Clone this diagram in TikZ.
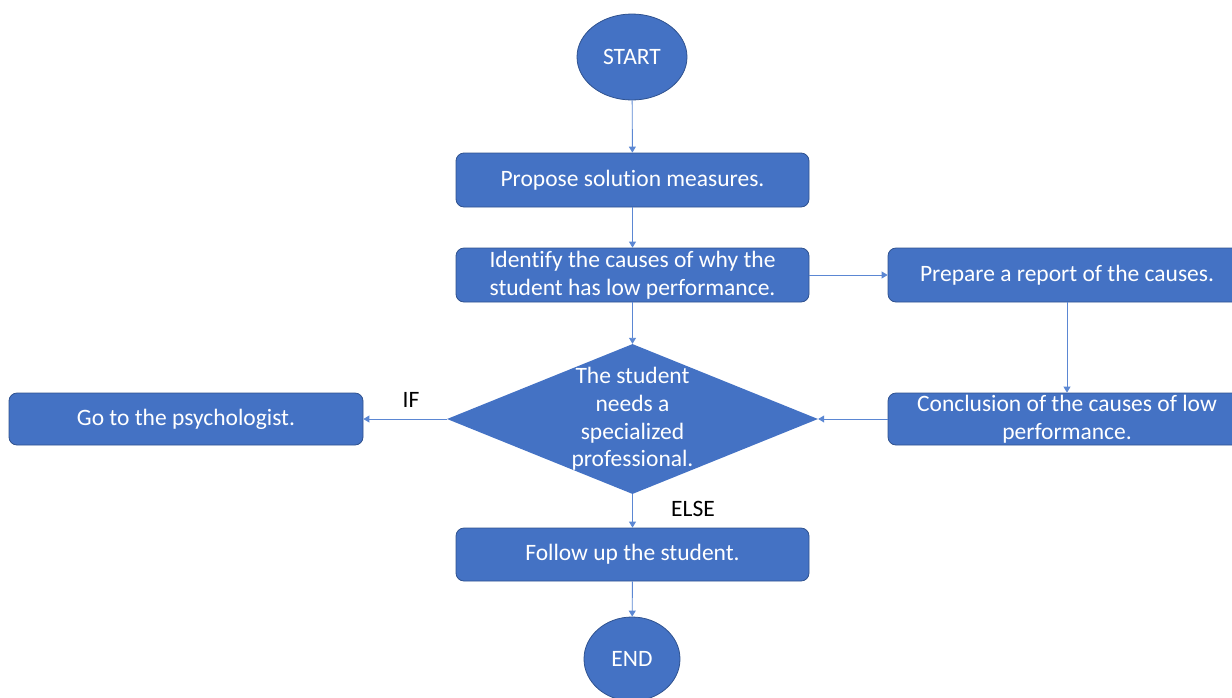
\documentclass[tikz,border=0pt]{standalone}
\usepackage{fontspec}
\setmainfont{Carlito}[Ligatures=CommonOff]
\usetikzlibrary{shapes.geometric,arrows.meta}
\definecolor{boxfill}{HTML}{4472C4}
\definecolor{boxline}{HTML}{2F528F}
\definecolor{arrowc}{HTML}{5B87D3}
\begin{document}
\begin{tikzpicture}[x=1pt,y=-1pt,
  every node/.style={font=\fontsize{23.5}{27.8}\selectfont},
  proc/.style={rectangle, rounded corners=8pt, fill=boxfill, draw=boxline, line width=0.8pt,
    text=white, align=center, inner sep=0pt},
  term/.style={ellipse, fill=boxfill, draw=boxline, line width=0.8pt, text=white, inner sep=0pt},
  decision/.style={diamond, fill=boxfill, draw=none, inner sep=0pt},
  lbl/.style={text=black},
  conn/.style={draw=arrowc, line width=0.9pt, -{Triangle[width=7pt,length=6pt]}}
]
\useasboundingbox (0,0) rectangle (1232,697);
\node[term, minimum width=110pt, minimum height=86pt] (start) at (632,57) {START};
\node[proc, minimum width=353pt, minimum height=54pt] (propose) at (632.5,180) {Propose solution measures.};
\node[proc, minimum width=353pt, minimum height=54pt] (identify) at (632.5,275) {Identify the causes of why the\\student has low performance.};
\node[proc, minimum width=358pt, minimum height=54pt] (prepare) at (1067,275) {Prepare a report of the causes.};
\node[proc, minimum width=358pt, minimum height=52pt] (conclusion) at (1067,419) {Conclusion of the causes of low\\performance.};
\node[decision, minimum width=371pt, minimum height=150pt] (dec) at (632.5,419) {};
\node[text=white, align=center, inner sep=0pt] (dectext) at (632.5,419) {The student\\needs a\\specialized\\professional.};
\node[proc, minimum width=354pt, minimum height=52pt] (psych) at (186,419) {Go to the psychologist.};
\node[proc, minimum width=353pt, minimum height=53pt] (follow) at (632.5,554.5) {Follow up the student.};
\node[term, minimum width=96pt, minimum height=84pt] (end) at (632,659) {END};
\node[lbl] (iflbl) at (411,400) {IF};
\node[lbl] (elselbl) at (693,509) {ELSE};

\draw[conn] (start) -- (propose);
\draw[conn] (propose) -- (identify);
\draw[conn] (identify) -- (dec.north);
\draw[conn] (identify) -- (prepare);
\draw[conn] (prepare) -- (conclusion);
\draw[conn] (conclusion) -- (dec.east);
\draw[conn] (dec.west) -- (psych);
\draw[conn] (dec.south) -- (follow);
\draw[conn] (follow) -- (end);
\end{tikzpicture}
\end{document}
